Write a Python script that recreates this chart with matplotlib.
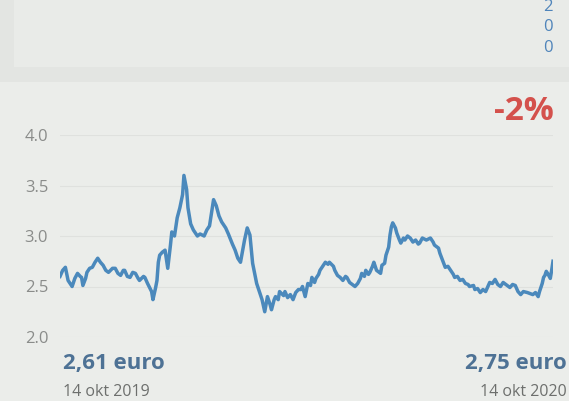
import numpy as np
import matplotlib
matplotlib.use("Agg")
import matplotlib.pyplot as plt
import matplotlib.patches as patches

plt.rcParams['font.family'] = ['Open Sans', 'DejaVu Sans']

# Koers (euro), dagen na 14 okt 2019
dagen = [0, 2, 4, 6, 9, 11, 13, 15, 16, 17,
         19, 20, 22, 24, 26, 28, 30, 32, 34, 36,
         39, 41, 43, 45, 47, 48, 50, 52, 54, 56,
         58, 59, 62, 63, 65, 68, 69, 71, 72, 73,
         74, 76, 78, 80, 82, 83, 85, 87, 89, 91,
         92, 94, 95, 97, 99, 102, 104, 107, 109, 111,
         114, 116, 118, 120, 123, 125, 128, 130, 132, 134,
         137, 139, 141, 143, 146, 148, 150, 152, 154, 156,
         157, 159, 160, 162, 163, 166, 167, 169, 171, 173,
         175, 177, 179, 180, 182, 184, 186, 187, 189, 190,
         192, 193, 195, 197, 199, 200, 203, 204, 206, 208,
         210, 212, 213, 215, 218, 219, 221, 223, 224, 226,
         227, 229, 230, 232, 233, 235, 238, 239, 241, 242,
         244, 245, 246, 247, 249, 250, 252, 253, 255, 256,
         258, 260, 262, 264, 266, 267, 269, 272, 275, 277,
         278, 281, 282, 284, 286, 288, 290, 292, 293, 295,
         297, 299, 301, 303, 304, 307, 308, 310, 312, 314,
         316, 318, 319, 321, 323, 325, 327, 329, 330, 333,
         334, 336, 338, 340, 342, 344, 347, 349, 351, 353,
         355, 356, 358, 359, 360, 361, 362, 364, 365, 366]
koers = [2.60, 2.66, 2.69, 2.56, 2.50, 2.58, 2.63, 2.60, 2.59, 2.51,
         2.58, 2.64, 2.68, 2.69, 2.74, 2.78, 2.74, 2.71, 2.66, 2.64,
         2.68, 2.68, 2.63, 2.61, 2.66, 2.66, 2.60, 2.59, 2.64, 2.63,
         2.58, 2.56, 2.60, 2.59, 2.53, 2.45, 2.37, 2.49, 2.56, 2.74,
         2.81, 2.84, 2.86, 2.68, 2.91, 3.04, 3.00, 3.18, 3.28, 3.41,
         3.60, 3.46, 3.28, 3.12, 3.06, 3.00, 3.02, 3.00, 3.06, 3.10,
         3.36, 3.30, 3.20, 3.14, 3.08, 3.02, 2.92, 2.86, 2.78, 2.74,
         2.96, 3.08, 3.01, 2.73, 2.53, 2.45, 2.37, 2.25, 2.40, 2.32,
         2.27, 2.37, 2.40, 2.37, 2.45, 2.41, 2.45, 2.39, 2.42, 2.37,
         2.44, 2.47, 2.47, 2.50, 2.40, 2.53, 2.51, 2.59, 2.54, 2.58,
         2.62, 2.66, 2.70, 2.74, 2.72, 2.74, 2.70, 2.66, 2.61, 2.59,
         2.56, 2.60, 2.59, 2.54, 2.51, 2.50, 2.53, 2.58, 2.63, 2.60,
         2.66, 2.62, 2.64, 2.70, 2.74, 2.66, 2.63, 2.71, 2.73, 2.81,
         2.89, 3.01, 3.09, 3.13, 3.08, 3.03, 2.96, 2.93, 2.98, 2.96,
         3.00, 2.98, 2.94, 2.96, 2.92, 2.93, 2.98, 2.96, 2.98, 2.94,
         2.91, 2.88, 2.83, 2.76, 2.69, 2.70, 2.66, 2.62, 2.59, 2.60,
         2.56, 2.57, 2.53, 2.52, 2.50, 2.51, 2.47, 2.48, 2.44, 2.47,
         2.45, 2.51, 2.54, 2.53, 2.57, 2.52, 2.50, 2.54, 2.53, 2.50,
         2.49, 2.52, 2.51, 2.45, 2.42, 2.45, 2.44, 2.43, 2.42, 2.44,
         2.40, 2.45, 2.53, 2.59, 2.61, 2.65, 2.63, 2.58, 2.66, 2.75]
yticks = [2.0, 2.5, 3.0, 3.5, 4.0]
start = np.datetime64('2019-10-14')
datums = start + np.array(dagen).astype('timedelta64[D]')

W, H = 569, 401
fig = plt.figure(figsize=(W / 100, H / 100), dpi=100, facecolor='#e3e5e2')

# panelen op de achtergrond
bg = fig.add_axes([0, 0, 1, 1], zorder=-5)
bg.set_xlim(0, W)
bg.set_ylim(H, 0)
bg.axis('off')
bg.add_patch(patches.Rectangle((14, -2), 560, 69, color='#e9ebe8', lw=0))
bg.add_patch(patches.Rectangle((0, 82), 569, 330, color='#ebedea', lw=0))

# bovenste paneel (deels buiten beeld)
for yy, t in [(7, '2'), (27, '0'), (48, '0')]:
    bg.text(548, yy, t, color='#4f84ba', fontsize=12, ha='center', va='center')

ax = fig.add_axes([60 / W, (H - 337) / H, 493 / W, 202 / H])
ax.set_facecolor('none')
ax.plot(datums, koers, color='#4b89bc', lw=2.5, solid_joinstyle='round')
ax.set_ylim(2.0, 4.0)
ax.set_xlim(start, start + np.timedelta64(366, 'D'))
ax.set_yticks(yticks)
ax.set_yticklabels([f'{v:.1f}' for v in yticks])
ax.tick_params(axis='y', length=0, pad=8.5, labelsize=12, labelcolor='#8a8c8a')
ax.set_xticks([])
ax.grid(axis='y', color='#dfe1de', lw=0.8)
for s in ax.spines.values():
    s.set_visible(False)

# teksten
fig.text(554 / W, 1 - 111 / H, '-2%', color='#d4514c', fontsize=24, fontweight='bold',
         ha='right', va='center')
fig.text(63 / W, 1 - 364 / H, '2,61 euro', color='#4e7295', fontsize=16, fontweight='bold',
         ha='left', va='center')
fig.text(567 / W, 1 - 364 / H, '2,75 euro', color='#4e7295', fontsize=16, fontweight='bold',
         ha='right', va='center')
fig.text(63 / W, 1 - 392 / H, '14 okt 2019', color='#6d6f6d', fontsize=11.5,
         ha='left', va='center')
fig.text(567 / W, 1 - 392 / H, '14 okt 2020', color='#6d6f6d', fontsize=11.5,
         ha='right', va='center')

fig.savefig('out.png', dpi=100, facecolor=fig.get_facecolor())
